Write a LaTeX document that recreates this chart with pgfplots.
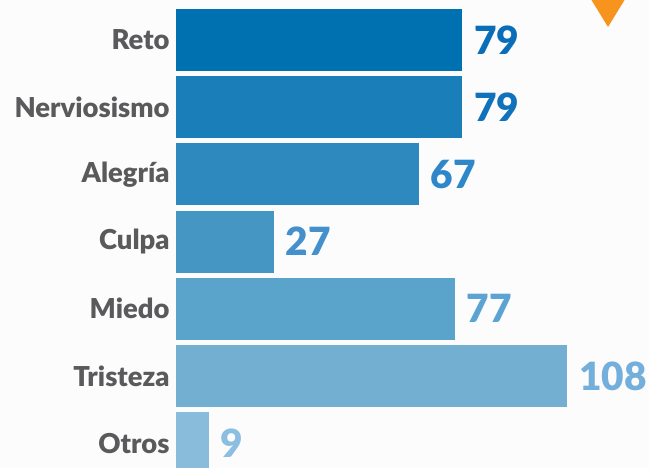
\documentclass[border=0pt]{standalone}
\usepackage{pgfplots}
\pgfplotsset{compat=1.18}
\usepackage{fontspec}
\setmainfont{Lato}
\newfontfamily\latoblack{Lato Black}
\definecolor{bg}{HTML}{FCFCFC}
\definecolor{lab}{HTML}{5A5A5C}
\definecolor{orng}{HTML}{F7941E}
\definecolor{b1}{HTML}{0071B0}
\definecolor{b2}{HTML}{1A7FB8}
\definecolor{b3}{HTML}{2E89BE}
\definecolor{b4}{HTML}{4596C3}
\definecolor{b5}{HTML}{5AA4CB}
\definecolor{b6}{HTML}{72AFD0}
\definecolor{b7}{HTML}{89BCDA}
\definecolor{t1}{HTML}{0A6DB8}
\definecolor{t2}{HTML}{0F72BA}
\definecolor{t3}{HTML}{2E87C8}
\definecolor{t4}{HTML}{4390CC}
\definecolor{t5}{HTML}{5BA3D3}
\definecolor{t6}{HTML}{74AEDA}
\definecolor{t7}{HTML}{8BBEE0}
\begin{document}
\begin{tikzpicture}[x=1bp,y=1bp]
\useasboundingbox (0,0) rectangle (649,468);
\clip (0,0) rectangle (649,468);
\fill[bg] (0,0) rectangle (649,468);
\fill[orng] (589,472) -- (627,472) -- (608,441) -- cycle;
\begin{axis}[
  at={(176bp,-8.8bp)}, anchor=south west,
  scale only axis, width=470.6bp, height=470.4bp,
  xmin=0, xmax=130, ymin=-0.5, ymax=6.5,
  y dir=reverse,
  clip=false,
  /pgf/number format/assume math mode=true,
  xbar, bar width=62bp, bar shift=0pt,
  ytick={0,1,2,3,4,5,6},
  yticklabels={Reto,Nerviosismo,Alegría,Culpa,Miedo,Tristeza,Otros},
  xtick=\empty,
  axis line style={draw=none},
  ytick style={draw=none},
  yticklabel style={font=\fontsize{27.5}{29}\latoblack, text=lab, inner sep=0pt, xshift=-2bp},
  nodes near coords,
  every node near coord/.append style={font=\fontsize{39}{41}\latoblack, anchor=west, inner sep=0pt, xshift=12bp},
]
\addplot[fill=b1, draw=none, every node near coord/.append style={text=t1}] coordinates {(79,0)};
\addplot[fill=b2, draw=none, every node near coord/.append style={text=t2}] coordinates {(79,1)};
\addplot[fill=b3, draw=none, every node near coord/.append style={text=t3}] coordinates {(67,2)};
\addplot[fill=b4, draw=none, every node near coord/.append style={text=t4}] coordinates {(27,3)};
\addplot[fill=b5, draw=none, every node near coord/.append style={text=t5}] coordinates {(77,4)};
\addplot[fill=b6, draw=none, every node near coord/.append style={text=t6}] coordinates {(108,5)};
\addplot[fill=b7, draw=none, every node near coord/.append style={text=t7}] coordinates {(9,6)};
\end{axis}
\end{tikzpicture}
\end{document}
